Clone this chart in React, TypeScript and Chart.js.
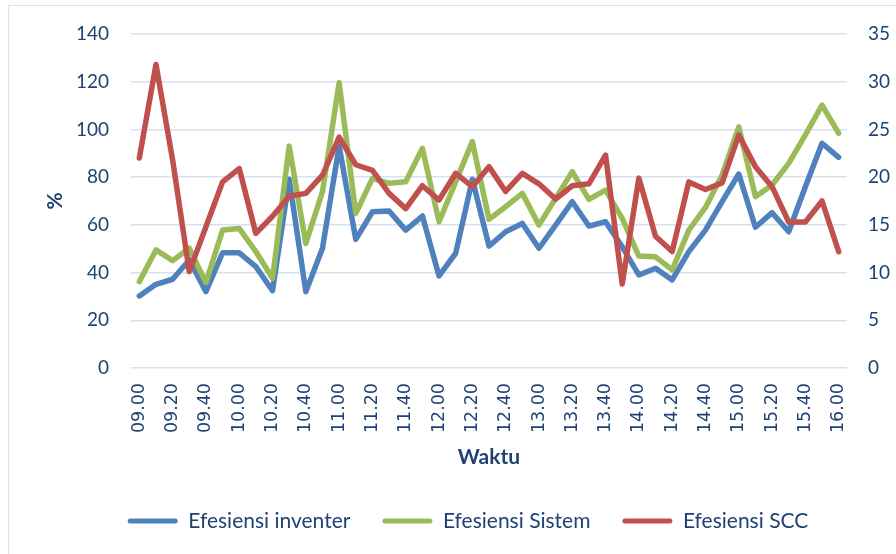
import React, { useEffect, useRef } from "react";
import { Chart, registerables } from "chart.js";

Chart.register(...registerables);

const timeLabels = [
  "09.00", "09.10", "09.20", "09.30", "09.40", "09.50",
  "10.00", "10.10", "10.20", "10.30", "10.40", "10.50",
  "11.00", "11.10", "11.20", "11.30", "11.40", "11.50",
  "12.00", "12.10", "12.20", "12.30", "12.40", "12.50",
  "13.00", "13.10", "13.20", "13.30", "13.40", "13.50",
  "14.00", "14.10", "14.20", "14.30", "14.40", "14.50",
  "15.00", "15.10", "15.20", "15.30", "15.40", "15.50",
  "16.00",
];

const efesiensiInventer = [
  30.2, 35.1, 37.2, 45.3, 32.0, 48.3, 48.3, 42.5, 32.4, 79.1, 32.0, 50.2,
  93.0, 53.9, 65.5, 65.8, 57.8, 63.7, 38.6, 48.1, 79.1, 51.1, 57.1, 60.6,
  50.2, 59.9, 69.7, 59.5, 61.3, 50.8, 39.0, 41.8, 36.9, 48.8, 57.8, 69.7,
  81.3, 59.0, 65.1, 57.1, 76.0, 94.2, 88.3,
];

const efesiensiSistem = [
  36.2, 49.5, 45.0, 50.2, 35.8, 57.8, 58.5, 48.8, 37.6, 93.0, 52.2, 73.9,
  119.6, 64.8, 79.5, 77.4, 78.1, 92.1, 61.3, 78.0, 94.9, 62.3, 67.6, 73.2,
  59.9, 71.1, 82.3, 70.7, 74.6, 62.7, 46.9, 46.6, 41.1, 57.8, 67.3, 80.9,
  101.1, 71.8, 76.7, 85.8, 97.7, 110.2, 98.4,
];

const efesiensiSCC = [
  22.0, 31.8, 21.8, 10.1, 14.8, 19.5, 20.9, 14.1, 15.9, 18.0, 18.3, 20.2,
  24.2, 21.3, 20.7, 18.3, 16.7, 19.1, 17.6, 20.4, 19.0, 21.1, 18.5, 20.4,
  19.3, 17.7, 19.1, 19.3, 22.3, 8.8, 19.9, 13.8, 12.2, 19.5, 18.7, 19.4,
  24.4, 21.1, 19.0, 15.3, 15.3, 17.5, 12.2,
];

const seriesNames = ["Efesiensi inventer", "Efesiensi Sistem", "Efesiensi SCC"];
const seriesColors = ["#4F81BD", "#9BBB59", "#C0504D"];

const TEXT = "#1F4173";
const GRID = "#D6E2F1";

export default function App() {
  const ref = useRef<HTMLCanvasElement | null>(null);

  useEffect(() => {
    if (!ref.current) return;
    const mk = (i: number, data: number[], axis: string, order: number) => ({
      label: seriesNames[i],
      data,
      yAxisID: axis,
      borderColor: seriesColors[i],
      backgroundColor: seriesColors[i],
      borderWidth: 5.5,
      pointRadius: 0,
      tension: 0,
      borderJoinStyle: "round" as const,
      borderCapStyle: "round" as const,
      order,
    });
    const chart = new Chart(ref.current, {
      type: "line",
      data: {
        labels: timeLabels,
        datasets: [
          mk(0, efesiensiInventer, "y", 3),
          mk(1, efesiensiSistem, "y", 2),
          mk(2, efesiensiSCC, "y1", 1),
        ],
      },
      options: {
        responsive: false,
        animation: false,
        devicePixelRatio: 1,
        layout: { padding: { left: 40, right: 0, top: 34, bottom: 12.5 } },
        plugins: {
          tooltip: { enabled: false },
          legend: {
            position: "bottom",
            labels: {
              color: TEXT,
              font: { family: "Lato", size: 21 },
              boxWidth: 50,
              boxHeight: 5,
              padding: 32,
              useBorderRadius: true,
              borderRadius: 2.5,
              sort: (a: any, b: any) => a.datasetIndex - b.datasetIndex,
              generateLabels: (c: any) => {
                const items = Chart.defaults.plugins.legend.labels.generateLabels(c);
                return items.map((it: any) => ({ ...it, lineWidth: 0, strokeStyle: "rgba(0,0,0,0)" }));
              },
            },
          },
        },
        scales: {
          x: {
            type: "category",
            offset: true,
            grid: { display: false, drawTicks: false },
            border: { display: false },
            ticks: {
              autoSkip: false,
              minRotation: 90,
              maxRotation: 90,
              padding: 15,
              color: TEXT,
              font: { family: "DejaVu Sans", size: 17.5 },
              callback: (_v: any, i: number) => (i % 2 === 0 ? timeLabels[i] : ""),
            },
            title: {
              display: true,
              text: "Waktu",
              color: TEXT,
              font: { family: "Lato", size: 21, weight: "bold" },
              padding: { top: 0, bottom: 9 },
            },
            afterFit: (s: any) => {
              s.height = 110.5;
            },
          },
          y: {
            position: "left",
            min: 0,
            max: 140,
            ticks: {
              stepSize: 20,
              padding: 22,
              color: TEXT,
              font: { family: "Lato", size: 19 },
            },
            grid: { color: GRID, lineWidth: 1.5, drawTicks: false },
            border: { display: false },
            title: {
              display: true,
              text: "%",
              color: TEXT,
              font: { family: "Lato", size: 21, weight: "bold" },
              padding: { top: 3, bottom: 0 },
            },
            afterFit: (s: any) => {
              s.width = 91;
            },
          },
          y1: {
            position: "right",
            min: 0,
            max: 35,
            ticks: {
              stepSize: 5,
              padding: 21,
              color: TEXT,
              font: { family: "Lato", size: 19 },
            },
            grid: { display: false, drawTicks: false },
            border: { display: false },
            afterFit: (s: any) => {
              s.width = 49;
            },
          },
        },
      },
    });
    return () => chart.destroy();
  }, []);

  return (
    <div style={{ position: "fixed", left: 0, top: 0, width: 896, height: 554, background: "#fff", overflow: "hidden" }}>
      <div
        style={{
          position: "absolute",
          left: 8,
          top: 5,
          width: 900,
          height: 600,
          borderLeft: "1.5px solid #D6E2F1",
          borderTop: "1.5px solid #D6E2F1",
        }}
      />
      <canvas ref={ref} width={896} height={554} style={{ position: "absolute", left: 0, top: 0 }} />
    </div>
  );
}
